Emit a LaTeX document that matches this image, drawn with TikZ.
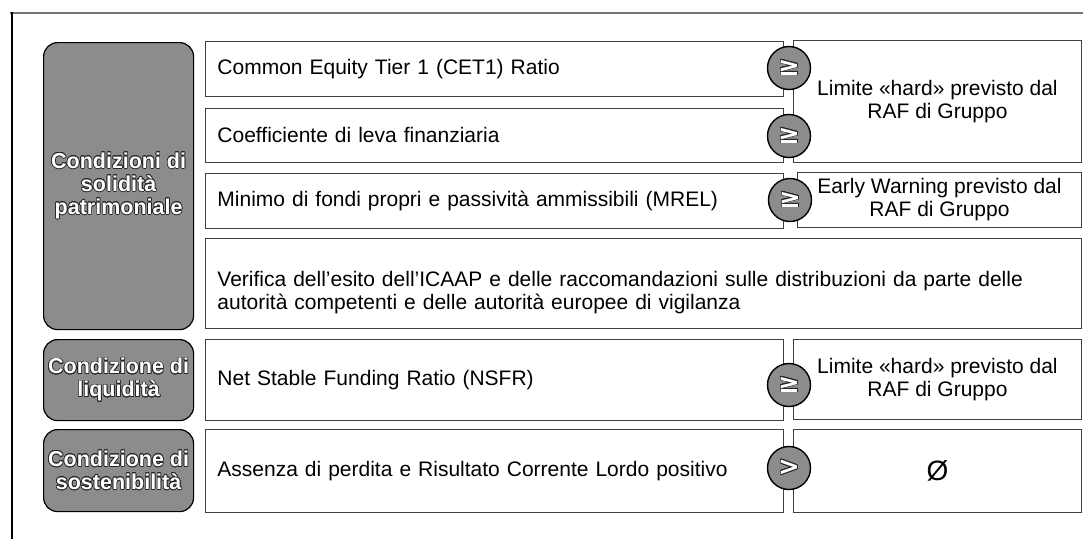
\documentclass[tikz,border=0pt]{standalone}
\usepackage{fontspec}
\setmainfont{Liberation Sans}
\newfontfamily\symfont{DejaVu Sans}
\usepackage{contour}
\contourlength{0.7pt}
\newcommand{\outl}[1]{\contour{black!85}{#1}}
\begin{document}
\begin{tikzpicture}[x=1pt,y=-1pt,
  cat/.style={draw=black, line width=1.2pt, fill=black!45, rounded corners=14pt,
    text=white, font=\fontsize{21.5}{23}\selectfont\bfseries, align=center,
    inner sep=0pt, minimum width=150pt, anchor=north west},
  rowbox/.style={draw=black!75, line width=0.9pt, fill=white, anchor=north west,
    inner xsep=12pt, inner ysep=0pt, align=left,
    font=\fontsize{21}{23}\selectfont},
  limbox/.style={draw=black!75, line width=0.9pt, fill=white, anchor=north west,
    inner sep=0pt, align=center, font=\fontsize{21}{23}\selectfont},
  gebox/.style={circle, draw=black, line width=1.4pt, fill=black!45,
    minimum size=43pt, inner sep=0pt, text=white,
    font=\symfont\bfseries\fontsize{26}{26}\selectfont}
]
\useasboundingbox (0,0) rectangle (1083,539);
% outer frame
\draw[black!55, line width=1.3pt] (10,13) -- (1083,13);
\draw[black, line width=2.5pt] (12,12) -- (12,539);
% category boxes
\node[cat, minimum height=287pt] (cat1) at (43,42) {\outl{Condizioni di}\\\outl{solidità}\\\outl{patrimoniale}};
\node[cat, minimum height=81pt] (cat2) at (43,339) {\outl{Condizione di}\\\outl{liquidità}};
\node[cat, minimum height=82pt] (cat3) at (43,429) {\outl{Condizione di}\\\outl{sostenibilità}};
% row boxes
\node[rowbox, text width=554pt, minimum height=55pt] (row1) at (205,41) {Common Equity Tier 1 (CET1) Ratio};
\node[rowbox, text width=554pt, minimum height=54pt] (row2) at (205,108) {Coefficiente di leva finanziaria};
\node[rowbox, text width=554pt, minimum height=55pt] (row3) at (205,173) {Minimo di fondi propri e passività ammissibili (MREL)};
\node[rowbox, text width=852pt, minimum height=90pt] (row4) at (205,238) {\rule{0pt}{34pt}\makebox[838pt][s]{Verifica dell’esito dell’ICAAP e delle raccomandazioni sulle distribuzioni da parte delle}\\autorità competenti e delle autorità europee di vigilanza};
\node[rowbox, text width=554pt, minimum height=81pt] (row5) at (205,339) {Net Stable Funding Ratio (NSFR)};
\node[rowbox, text width=554pt, minimum height=83pt] (row6) at (205,429) {Assenza di perdita e Risultato Corrente Lordo positivo};
% limit boxes
\node[limbox, minimum width=288pt, minimum height=122pt] (lim1) at (793,40) {Limite «hard» previsto dal\\RAF di Gruppo};
\node[limbox, minimum width=284pt, minimum height=55pt] (lim2) at (797,172) {Early Warning previsto dal\\RAF di Gruppo};
\node[limbox, minimum width=288pt, minimum height=80pt] (lim3) at (793,339) {Limite «hard» previsto dal\\RAF di Gruppo};
\node[limbox, minimum width=288pt, minimum height=83pt, font=\fontsize{28}{28}\selectfont] (lim4) at (793,429) {Ø};
% comparison circles
\node[gebox] (ge1) at (789,68) {\outl{≥}};
\node[gebox] (ge2) at (789,136) {\outl{≥}};
\node[gebox] (ge3) at (790,200) {\outl{≥}};
\node[gebox] (ge4) at (789,385) {\outl{≥}};
\node[gebox] (ge5) at (789,468) {\outl{>}};
\end{tikzpicture}
\end{document}
